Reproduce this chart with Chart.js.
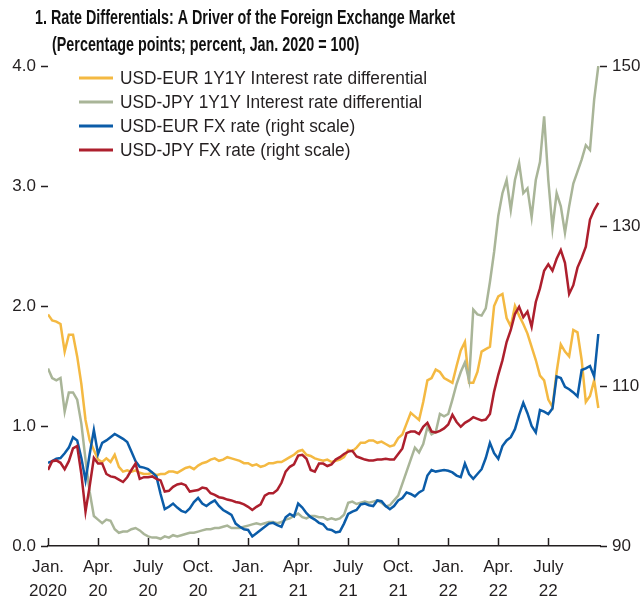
<!DOCTYPE html>
<html lang="en">
<head>
<meta charset="UTF-8" />
<title>Rate Differentials: A Driver of the Foreign Exchange Market</title>
<style>
  body { margin: 0; background: #fff; }
  canvas { display: block; }
</style>
</head>
<body>
<canvas id="chart" width="644" height="602"></canvas>

<script src="https://cdn.jsdelivr.net/npm/chart.js"></script>
<script>
  // months since Jan. 2020, roughly weekly
  const months = [
    0,0.25,0.5,0.75,1,1.25,1.5,1.75,2,2.25,
    2.5,2.75,3,3.25,3.5,3.75,4,4.25,4.5,4.75,
    5,5.25,5.5,5.75,6,6.25,6.5,6.75,7,7.25,
    7.5,7.75,8,8.25,8.5,8.75,9,9.25,9.5,9.75,
    10,10.25,10.5,10.75,11,11.25,11.5,11.75,12,12.25,
    12.5,12.75,13,13.25,13.5,13.75,14,14.25,14.5,14.75,
    15,15.25,15.5,15.75,16,16.25,16.5,16.75,17,17.25,
    17.5,17.75,18,18.25,18.5,18.75,19,19.25,19.5,19.75,
    20,20.25,20.5,20.75,21,21.25,21.5,21.75,22,22.25,
    22.5,22.75,23,23.25,23.5,23.75,24,24.25,24.5,24.75,
    25,25.25,25.5,25.75,26,26.25,26.5,26.75,27,27.25,
    27.5,27.75,28,28.25,28.5,28.75,29,29.25,29.5,29.75,
    30,30.25,30.5,30.75,31,31.25,31.5,31.75,32,32.25,
    32.5,32.75,33];

  // percentage points (left scale)
  const eurDiff = [
    1.93,1.88,1.87,1.85,1.62,1.76,1.76,1.58,1.35,1.05,
    0.88,0.8,0.72,0.7,0.73,0.7,0.76,0.66,0.62,0.63,
    0.62,0.63,0.61,0.6,0.6,0.61,0.59,0.6,0.6,0.62,
    0.62,0.61,0.63,0.65,0.66,0.64,0.67,0.69,0.7,0.72,
    0.73,0.71,0.72,0.74,0.73,0.72,0.71,0.69,0.69,0.67,
    0.68,0.66,0.67,0.69,0.69,0.7,0.7,0.72,0.74,0.76,
    0.79,0.8,0.76,0.75,0.73,0.72,0.71,0.72,0.7,0.71,
    0.72,0.74,0.8,0.79,0.82,0.86,0.86,0.88,0.88,0.86,
    0.87,0.85,0.83,0.84,0.9,0.93,1.02,1.11,1.08,1.05,
    1.2,1.38,1.4,1.47,1.45,1.4,1.38,1.36,1.5,1.63,
    1.7,1.36,1.36,1.45,1.62,1.64,1.66,2.0,2.08,2.1,
    1.9,1.83,2.0,1.92,1.85,1.77,1.66,1.55,1.42,1.38,
    1.22,1.16,1.45,1.68,1.62,1.58,1.8,1.78,1.55,1.2,
    1.25,1.38,1.15];
  const jpyDiff = [
    1.48,1.4,1.38,1.4,1.12,1.28,1.28,1.22,1.02,0.72,
    0.45,0.25,0.22,0.19,0.22,0.21,0.14,0.11,0.12,0.12,
    0.14,0.15,0.13,0.1,0.08,0.07,0.07,0.06,0.08,0.07,
    0.09,0.08,0.09,0.1,0.11,0.11,0.12,0.13,0.14,0.14,
    0.15,0.15,0.16,0.17,0.15,0.15,0.15,0.16,0.17,0.18,
    0.19,0.18,0.19,0.2,0.2,0.19,0.2,0.22,0.23,0.25,
    0.27,0.24,0.23,0.25,0.25,0.24,0.24,0.22,0.23,0.22,
    0.23,0.26,0.36,0.37,0.35,0.36,0.37,0.36,0.37,0.38,
    0.36,0.33,0.34,0.38,0.42,0.52,0.62,0.72,0.82,0.78,
    0.85,0.99,0.93,0.95,1.1,1.08,1.1,1.22,1.35,1.45,
    1.53,1.38,1.97,1.93,1.92,1.98,2.2,2.45,2.75,2.94,
    3.05,2.8,3.05,3.19,2.94,2.98,2.74,3.05,3.2,3.58,
    3.05,2.65,2.94,2.83,2.61,2.83,3.02,3.12,3.22,3.34,
    3.3,3.72,4.0];

  // FX rates, Jan. 2020 = 100 (right scale)
  const eurFx = [
    100.4,100.6,100.9,101.0,101.6,102.3,103.6,103.2,101.0,98.2,
    101.5,104.5,101.5,102.9,103.2,103.6,104.0,103.7,103.4,103.0,
    101.8,100.6,99.9,99.8,99.6,99.2,98.7,96.5,94.6,94.9,
    95.3,94.8,94.4,94.2,94.7,95.5,96.0,95.3,95.0,95.4,
    95.7,95.0,94.5,94.2,93.9,92.8,92.4,92.1,92.0,91.2,
    91.6,92.0,92.4,92.8,92.9,92.6,92.4,93.6,94.0,93.7,
    95.3,94.8,94.1,93.6,93.3,92.9,92.7,92.1,92.0,91.7,
    91.8,92.8,94.0,94.3,94.5,95.2,95.3,95.1,95.0,95.7,
    95.6,95.0,94.6,95.0,95.7,96.0,96.7,96.5,96.2,96.7,
    97.0,98.8,99.5,99.3,99.4,99.5,99.4,99.2,98.8,98.6,
    100.3,99.0,98.4,99.0,99.6,101.0,102.9,101.6,100.9,102.5,
    103.2,103.6,104.6,106.4,107.9,106.6,105.0,104.2,107.0,106.8,
    106.5,107.2,111.2,111.0,109.9,109.6,109.2,108.7,112.0,112.2,
    112.5,111.2,116.5];
  const jpyFx = [
    99.5,100.6,100.7,100.4,99.6,100.6,102.2,102.5,99.0,94.3,
    97.5,101.0,100.3,100.3,99.0,98.7,98.6,98.3,98.0,98.6,
    99.5,100.3,98.4,98.6,98.6,98.7,98.4,98.2,96.8,96.9,
    97.4,97.7,97.8,97.6,96.8,96.9,97.0,97.3,97.2,96.6,
    96.4,96.1,96.0,95.8,95.7,95.5,95.4,95.2,94.9,94.5,
    94.9,95.2,96.3,96.6,96.6,97.0,97.9,99.3,99.9,100.2,
    101.3,101.4,100.9,99.5,99.3,100.3,100.3,100.0,100.2,100.8,
    101.1,101.5,101.8,101.9,101.2,101.0,100.8,100.7,100.7,100.8,
    100.8,100.9,100.8,100.8,101.5,102.2,104.1,104.3,104.3,104.0,
    104.9,105.4,104.3,104.2,104.4,104.7,105.2,106.4,105.5,104.9,
    105.4,105.7,106.1,105.9,105.7,105.8,106.5,109.3,111.4,113.2,
    115.5,117.0,119.0,119.9,118.6,119.3,117.4,120.5,122.2,124.4,
    125.2,124.4,125.9,127.0,125.4,121.5,122.6,124.8,126.0,127.4,
    130.8,132.0,132.9];

  const xTickMonths = [0,3,6,9,12,15,18,21,24,27,30];
  const xTickLabels = [['Jan.','2020'],['Apr.','20'],['July','20'],['Oct.','20'],['Jan.','21'],['Apr.','21'],
    ['July','21'],['Oct.','21'],['Jan.','22'],['Apr.','22'],['July','22']];

  const titleLines = ['1. Rate Differentials: A Driver of the Foreign Exchange Market',
    '(Percentage points; percent, Jan. 2020 = 100)'];

  const FONT = '"Liberation Sans", Arial, sans-serif';
  const INK = '#231f20';

  function toPoints(vals) {
    return vals.map((v, i) => ({ x: months[i], y: v }));
  }

  // the reference uses a condensed face, so squeeze Liberation Sans horizontally
  function squeezedText(c, text, x, y, sx) {
    c.save();
    c.translate(x, y);
    c.scale(sx, 1);
    c.fillText(text, 0, 0);
    c.restore();
  }

  // x ticks point up into the plot
  const innerTicks = {
    id: 'innerTicks',
    afterDatasetsDraw(chart) {
      const s = chart.scales.x, c = chart.ctx, b = chart.chartArea.bottom;
      c.save();
      c.strokeStyle = INK;
      c.lineWidth = 1.5;
      s.ticks.forEach(t => {
        const px = Math.round(s.getPixelForValue(t.value)) + 0.5;
        c.beginPath();
        c.moveTo(px, b);
        c.lineTo(px, b - 8);
        c.stroke();
      });
      c.restore();
    }
  };

  const titleAndLegend = {
    id: 'titleAndLegend',
    afterDraw(chart) {
      const c = chart.ctx;
      c.save();
      c.fillStyle = '#111';
      c.textBaseline = 'middle';

      c.font = 'bold 20px ' + FONT;
      const tsx = 420 / c.measureText(titleLines[0]).width;
      squeezedText(c, titleLines[0], 35, 18, tsx);
      squeezedText(c, titleLines[1], 52, 45, tsx);

      c.fillStyle = INK;
      c.font = '18px ' + FONT;
      const dsets = chart.data.datasets;
      const lsx = 307 / c.measureText(dsets[0].label).width;
      dsets.forEach((ds, i) => {
        const y = 78 + i * 24;
        c.strokeStyle = ds.borderColor;
        c.lineWidth = 3;
        c.beginPath();
        c.moveTo(79, y);
        c.lineTo(113, y);
        c.stroke();
        squeezedText(c, ds.label, 120, y + 1, lsx);
      });
      c.restore();
    }
  };

  const ctx = document.getElementById('chart').getContext('2d');
  new Chart(ctx, {
    type: 'line',
    data: {
      datasets: [
        { label: 'USD-EUR 1Y1Y Interest rate differential', data: toPoints(eurDiff), borderColor: '#f4b942', yAxisID: 'y', order: 3 },
        { label: 'USD-JPY 1Y1Y Interest rate differential', data: toPoints(jpyDiff), borderColor: '#a9b598', yAxisID: 'y', order: 2 },
        { label: 'USD-EUR FX rate (right scale)', data: toPoints(eurFx), borderColor: '#0b5ca8', yAxisID: 'y1', order: 1 },
        { label: 'USD-JPY FX rate (right scale)', data: toPoints(jpyFx), borderColor: '#ad1f2d', yAxisID: 'y1', order: 0 }
      ]
    },
    options: {
      responsive: false,
      animation: false,
      layout: { padding: { top: 66, left: 0, right: 0, bottom: 0 } },
      elements: { point: { radius: 0 }, line: { borderWidth: 2.5, tension: 0 } },
      plugins: { legend: { display: false }, tooltip: { enabled: false } },
      scales: {
        x: {
          type: 'linear', min: 0, max: 33.1,
          afterBuildTicks: s => { s.ticks = xTickMonths.map(v => ({ value: v })); },
          ticks: {
            callback: (v, i) => xTickLabels[i],
            font: { family: FONT, size: 17, lineHeight: 1.38 },
            color: INK, padding: 10, maxRotation: 0, autoSkip: false
          },
          grid: { drawOnChartArea: false, drawTicks: false },
          border: { color: INK, width: 1.5 },
          afterFit: s => { s.height = 56; }
        },
        y: {
          position: 'left', min: 0, max: 4,
          ticks: { stepSize: 1, callback: v => v.toFixed(1), font: { family: FONT, size: 17 }, color: INK, padding: 5 },
          grid: { drawOnChartArea: false, tickLength: 7, tickColor: INK, tickWidth: 1.5 },
          border: { display: false },
          afterFit: s => { s.width = 48; }
        },
        y1: {
          position: 'right', min: 90, max: 150,
          ticks: { stepSize: 20, font: { family: FONT, size: 17 }, color: INK, padding: 5 },
          grid: { drawOnChartArea: false, tickLength: 7, tickColor: INK, tickWidth: 1.5 },
          border: { display: false },
          afterFit: s => { s.width = 44; }
        }
      }
    },
    plugins: [innerTicks, titleAndLegend]
  });
</script>
</body>
</html>
